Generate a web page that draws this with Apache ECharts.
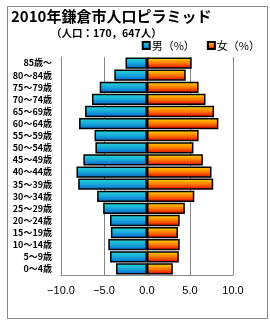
<!DOCTYPE html>
<html><head><meta charset="utf-8">
<script src="https://cdn.jsdelivr.net/npm/echarts@6/dist/echarts.min.js"></script>
<style>html,body{margin:0;padding:0;background:#fff}#c{width:270px;height:320px}</style>
</head><body><div id="c"></div>
<script>
const categories = ["0～4歳","5～9歳","10～14歳","15～19歳","20～24歳","25～29歳","30～34歳","35～39歳","40～44歳","45～49歳","50～54歳","55～59歳","60～64歳","65～69歳","70～74歳","75～79歳","80～84歳","85歳～"];
const maleValues = [3.6,4.3,4.5,4.2,4.3,5.1,5.8,8.0,8.2,7.4,6.0,6.1,7.9,7.2,6.4,5.5,3.8,2.5];
const femaleValues = [3.0,3.7,3.8,3.6,3.8,4.4,5.5,7.7,7.5,6.5,5.4,6.0,8.3,7.8,6.8,6.0,4.5,5.2];
const xTicks = [-10,-5,0,5,10];

const chart = echarts.init(document.getElementById('c'), null, {renderer:'canvas'});
const maleGrad = new echarts.graphic.LinearGradient(0,0,0,1,[{offset:0,color:'#2ad8d0'},{offset:0.5,color:'#18a8dc'},{offset:1,color:'#0860c8'}]);
const femaleGrad = new echarts.graphic.LinearGradient(0,0,0,1,[{offset:0,color:'#ffdc00'},{offset:0.5,color:'#ff7a00'},{offset:1,color:'#dc0000'}]);
const jp = '"Noto Sans CJK JP", sans-serif';
chart.setOption({
  animation:false,
  graphic:[{type:'rect',left:5,top:4,shape:{width:260,height:312},style:{fill:'none',stroke:'#888',lineWidth:1},z:-10}],
  title:[
    {text:'2010年鎌倉市人口ピラミッド',left:6,top:4,textStyle:{fontFamily:jp,fontSize:15,fontWeight:'bold',color:'#000'}},
    {text:'（人口：170，647人）',left:46,top:23,textStyle:{fontFamily:jp,fontSize:10.5,fontWeight:'bold',color:'#000'}}
  ],
  legend:{right:5,top:35,itemWidth:7,itemHeight:7,itemGap:12,icon:'rect',
    textStyle:{fontFamily:jp,fontSize:11,color:'#000',padding:[0,0,0,-3]},
    data:['男（%）','女（%）']},
  grid:{left:61,right:37,top:57,bottom:45},
  xAxis:{type:'value',min:xTicks[0],max:xTicks[xTicks.length-1],interval:5,
    axisLine:{show:true,lineStyle:{color:'#888'}},axisTick:{show:false},
    splitLine:{show:true,lineStyle:{color:'#888',width:1}},
    axisLabel:{margin:10,fontSize:11,color:'#000',fontFamily:'"Liberation Sans", Arial, sans-serif',
      formatter:v=>(v<0?'−':'')+Math.abs(v).toFixed(1)}},
  yAxis:{type:'category',data:categories,
    axisLine:{show:true,onZero:false,lineStyle:{color:'#888'}},axisTick:{show:false},
    axisLabel:{margin:9,fontSize:9,fontWeight:'bold',color:'#000',fontFamily:jp}},
  series:[
    {name:'男（%）',type:'bar',data:maleValues.map(v=>-v),barGap:'-100%',barCategoryGap:'7%',
      itemStyle:{color:maleGrad,borderColor:'#000',borderWidth:1.5}},
    {name:'女（%）',type:'bar',data:femaleValues,barCategoryGap:'7%',
      itemStyle:{color:femaleGrad,borderColor:'#000',borderWidth:1.5}}
  ]
});
</script></body></html>
